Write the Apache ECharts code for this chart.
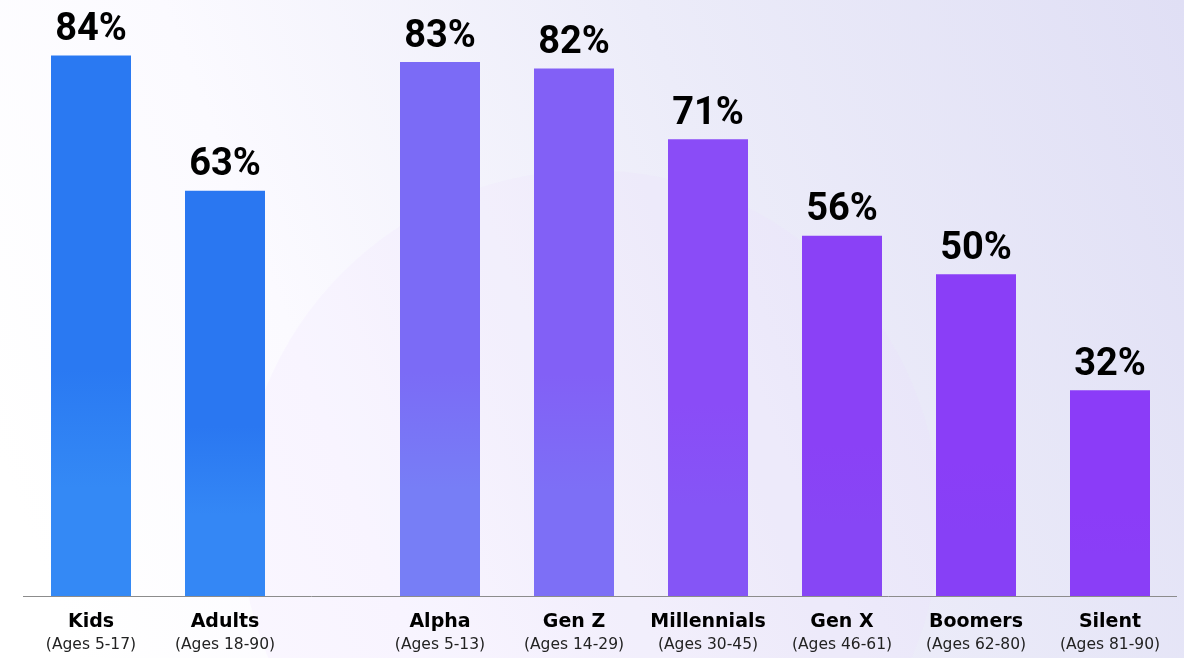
<!DOCTYPE html>
<html>
<head>
<meta charset="utf-8">
<script src="https://cdn.jsdelivr.net/npm/echarts@6/dist/echarts.min.js"></script>
<style>
  html, body { margin: 0; padding: 0; background: #fff; }
  #chart { width: 1184px; height: 658px; }
</style>
</head>
<body>
<div id="chart"></div>
<script>
// Overall split: all kids vs. all adults
const overallNames = ['Kids', 'Adults'];
const overallAges = ['(Ages 5-17)', '(Ages 18-90)'];
const overallValues = [84, 63];

// By generation
const genNames = ['Alpha', 'Gen Z', 'Millennials', 'Gen X', 'Boomers', 'Silent'];
const genAges = ['(Ages 5-13)', '(Ages 14-29)', '(Ages 30-45)', '(Ages 46-61)', '(Ages 62-80)', '(Ages 81-90)'];
const genValues = [83, 82, 71, 56, 50, 32];

// Bar fills (top colour, lower colour)
const overallFills = [['#2a79f2', '#3489f5'], ['#2a77f1', '#3487f5']];
const genFills = [
  ['#7b6bf6', '#777ef6'],
  ['#8260f6', '#7d6ff6'],
  ['#8a4cf7', '#8555f6'],
  ['#8a41f6', '#8746f5'],
  ['#8a3ef7', '#8740f6'],
  ['#8b3cf8', '#8a3ef7']
];

const W = 1184, H = 658;
const TOP = 17, PLOT_H = 579, Y_MAX = 90;
const BASE_Y = TOP + PLOT_H;
const G0 = { left: 24, width: 268 };
const G1 = { left: 373, width: 804 };

function fill(pair) {
  return new echarts.graphic.LinearGradient(0, 0, 0, 1, [
    { offset: 0, color: pair[0] },
    { offset: 0.58, color: pair[0] },
    { offset: 0.8, color: pair[1] },
    { offset: 1, color: pair[1] }
  ]);
}

function catLabels(names, ages) {
  return names.map((n, i) => n + '\n' + ages[i]);
}

const axisLabel = {
  interval: 0,
  margin: 15,
  formatter: function (v) {
    const parts = v.split('\n');
    return '{n|' + parts[0] + '}\n{a|' + parts[1] + '}';
  },
  rich: {
    n: { fontFamily: 'DejaVu Sans', fontWeight: 700, fontSize: 19, lineHeight: 23, color: '#000' },
    a: { fontFamily: 'DejaVu Sans', fontWeight: 400, fontSize: 15.5, lineHeight: 21, color: '#222' }
  }
};

const valueLabel = {
  show: true,
  position: 'top',
  distance: 6,
  formatter: '{c}%',
  fontFamily: 'Roboto',
  fontWeight: 700,
  fontSize: 38,
  color: '#000'
};

function xAxis(gridIndex, names, ages) {
  return {
    type: 'category',
    gridIndex: gridIndex,
    data: catLabels(names, ages),
    axisLine: { show: false },
    axisTick: { show: false },
    axisLabel: axisLabel
  };
}

function yAxis(gridIndex) {
  return {
    type: 'value',
    gridIndex: gridIndex,
    min: 0,
    max: Y_MAX,
    show: false,
    splitLine: { show: false }
  };
}

const chart = echarts.init(document.getElementById('chart'), null, { renderer: 'canvas' });

chart.setOption({
  animation: false,
  backgroundColor: '#ffffff',
  graphic: [
    {
      type: 'rect', z: -20, silent: true,
      shape: { x: 0, y: 0, width: W, height: H },
      style: {
        fill: new echarts.graphic.LinearGradient(0, 0.7, 1, 0, [
          { offset: 0, color: '#ffffff' },
          { offset: 0.25, color: '#fbfaff' },
          { offset: 0.6, color: '#ececf9' },
          { offset: 1, color: '#e0dff5' }
        ])
      }
    },
    {
      type: 'circle', z: -19, silent: true,
      shape: { cx: 590, cy: 520, r: 350 },
      style: { fill: 'rgba(238, 220, 252, 0.16)' }
    },
    {
      type: 'line', z: 10, silent: true,
      shape: { x1: 23, y1: BASE_Y + 0.5, x2: 1177, y2: BASE_Y + 0.5 },
      style: { stroke: '#8c8c8c', lineWidth: 1 }
    }
  ],
  grid: [
    { left: G0.left, width: G0.width, top: TOP, height: PLOT_H },
    { left: G1.left, width: G1.width, top: TOP, height: PLOT_H }
  ],
  xAxis: [xAxis(0, overallNames, overallAges), xAxis(1, genNames, genAges)],
  yAxis: [yAxis(0), yAxis(1)],
  series: [
    {
      type: 'bar',
      xAxisIndex: 0, yAxisIndex: 0,
      barWidth: 80,
      label: valueLabel,
      data: overallValues.map((v, i) => ({ value: v, itemStyle: { color: fill(overallFills[i]) } }))
    },
    {
      type: 'bar',
      xAxisIndex: 1, yAxisIndex: 1,
      barWidth: 80,
      label: valueLabel,
      data: genValues.map((v, i) => ({ value: v, itemStyle: { color: fill(genFills[i]) } }))
    }
  ]
});
</script>
</body>
</html>
